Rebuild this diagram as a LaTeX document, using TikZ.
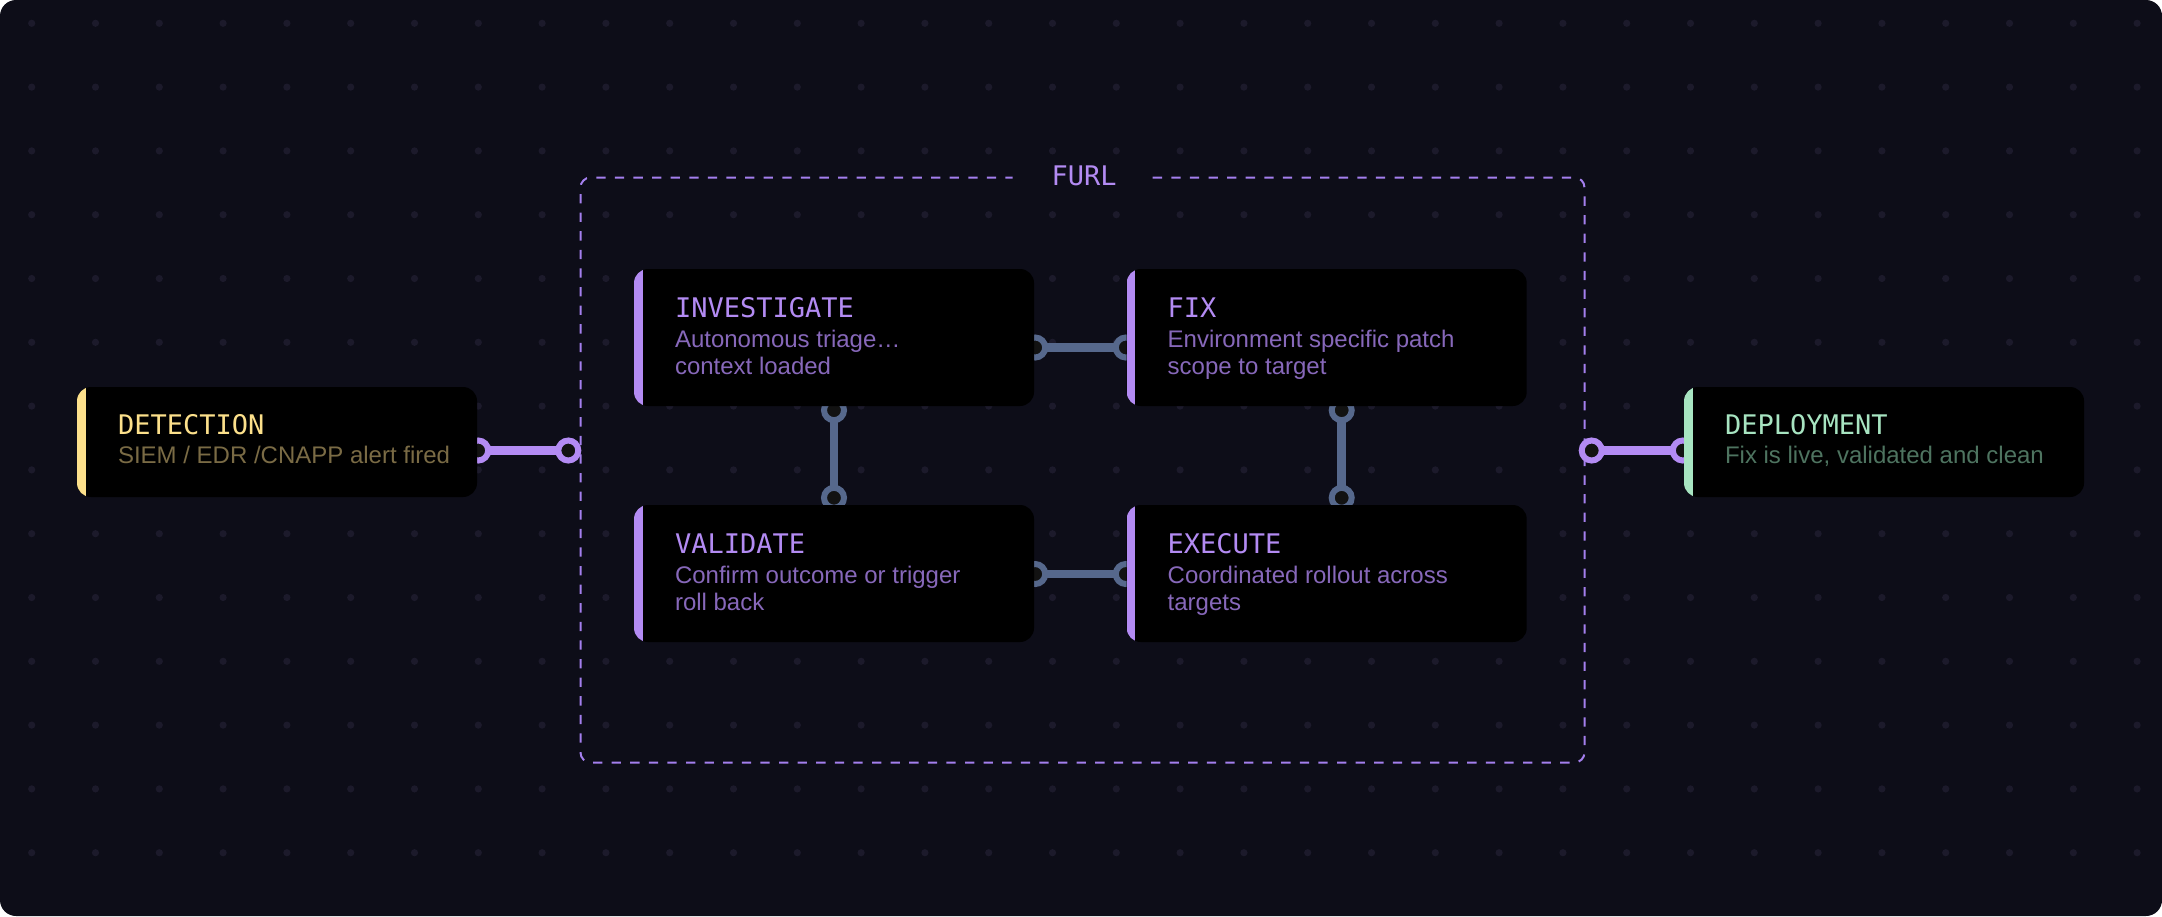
\documentclass[tikz,border=0pt]{standalone}
\usepackage{fontspec}
\usetikzlibrary{calc}
\newfontfamily\titlefont{DejaVu Sans Mono}
\newfontfamily\subfont{Liberation Sans}
\pgfdeclarelayer{backdrop}
\pgfdeclarelayer{links}
\pgfsetlayers{backdrop,links,main}
\definecolor{bgc}{HTML}{0D0D18}
\definecolor{dotc}{HTML}{1C1A2B}
\definecolor{boxc}{HTML}{000000}
\definecolor{holec}{HTML}{121212}
\definecolor{purp}{HTML}{B38BF3}
\definecolor{purpsub}{HTML}{8768BA}
\definecolor{yel}{HTML}{FCE08B}
\definecolor{yelsub}{HTML}{7A6B45}
\definecolor{grn}{HTML}{A7E4C1}
\definecolor{grnsub}{HTML}{4E7460}
\definecolor{slate}{HTML}{56688C}
\definecolor{dashc}{HTML}{A47FEE}
\tikzset{
  stepbox/.style={draw=none, fill=boxc, rounded corners=14pt, inner sep=0pt,
    minimum width=400pt,
    path picture={\fill[#1, sharp corners] (path picture bounding box.north west) rectangle ([xshift=8.5pt]path picture bounding box.south west);}},
  ttl/.style={anchor=base west, inner sep=0pt, font=\titlefont\fontsize{27}{32}\selectfont, text=#1},
  sub/.style={anchor=base west, inner sep=0pt, font=\subfont\fontsize{24}{27}\selectfont, text=#1},
  pline/.style={draw=purp, line width=8.5pt},
  pring/.style={draw=purp, fill=holec, line width=6pt},
  sline/.style={draw=slate, line width=8.5pt},
  sring/.style={draw=slate, fill=holec, line width=6pt},
  furlframe/.style={draw=dashc, line width=2pt, dash pattern=on 9.3pt off 9.3pt, rounded corners=10pt},
}
\begin{document}
\begin{tikzpicture}[x=1pt,y=-1pt]
\useasboundingbox (0,0) rectangle (2162,916);
% boxes
\node[stepbox=yel, minimum height=110pt] (det) at (277,442) {};
\node[stepbox=grn, minimum height=110pt] (dep) at (1884,442) {};
\node[stepbox=purp, minimum height=137pt] (inv) at (834,337.5) {};
\node[stepbox=purp, minimum height=137pt] (fix) at (1326.7,337.5) {};
\node[stepbox=purp, minimum height=137pt] (val) at (834,573.5) {};
\node[stepbox=purp, minimum height=137pt] (exe) at (1326.7,573.5) {};
% texts
\node[ttl=yel] (detT) at ($(det.north west)+(41,48)$) {DETECTION};
\node[sub=yelsub] (detS) at ($(det.north west)+(41,77)$) {SIEM / EDR /CNAPP alert fired};
\node[ttl=grn] (depT) at ($(dep.north west)+(41,48)$) {DEPLOYMENT};
\node[sub=grnsub] (depS) at ($(dep.north west)+(41,77)$) {Fix is live, validated and clean};
\node[ttl=purp] (invT) at ($(inv.north west)+(41,49)$) {INVESTIGATE};
\node[sub=purpsub] (invS1) at ($(inv.north west)+(41,79)$) {Autonomous triage…};
\node[sub=purpsub] (invS2) at ($(inv.north west)+(41,106)$) {context loaded};
\node[ttl=purp] (fixT) at ($(fix.north west)+(41,49)$) {FIX};
\node[sub=purpsub] (fixS1) at ($(fix.north west)+(41,79)$) {Environment specific patch};
\node[sub=purpsub] (fixS2) at ($(fix.north west)+(41,106)$) {scope to target};
\node[ttl=purp] (valT) at ($(val.north west)+(41,49)$) {VALIDATE};
\node[sub=purpsub] (valS1) at ($(val.north west)+(41,79)$) {Confirm outcome or trigger};
\node[sub=purpsub] (valS2) at ($(val.north west)+(41,106)$) {roll back};
\node[ttl=purp] (exeT) at ($(exe.north west)+(41,49)$) {EXECUTE};
\node[sub=purpsub] (exeS1) at ($(exe.north west)+(41,79)$) {Coordinated rollout across};
\node[sub=purpsub] (exeS2) at ($(exe.north west)+(41,106)$) {targets};
% FURL label
\node[anchor=base, inner sep=0pt, font=\titlefont\fontsize{27}{32}\selectfont, text=purp] (furl) at (1084,185.7) {FURL};
% frame ports
\coordinate (furlL) at (568.3,450.5);
\coordinate (furlR) at (1591.7,450.5);
\begin{pgfonlayer}{backdrop}
  \fill[white] (0,0) rectangle (2162,916);
  \fill[bgc, rounded corners=16pt] (0,0) rectangle (2162,916);
  \foreach \i in {0,...,33} {
    \foreach \j in {0,...,13} {
      \fill[dotc] (31.7+63.8*\i, 23.3+63.8*\j) circle (3.6pt);
    }
  }
  \draw[furlframe] (1152.7,177.5) -- (1584.5,177.5) -- (1584.5,762.5) -- (580.5,762.5) -- (580.5,177.5) -- (1012.7,177.5);
\end{pgfonlayer}
\begin{pgfonlayer}{links}
  % detection -> furl
  \coordinate (a1) at ($(det.east)+(1,8.5)$);
  \draw[pline] (a1) -- (furlL);
  \draw[pring] (a1) circle (10pt);
  \draw[pring] (furlL) circle (10pt);
  % furl -> deployment
  \coordinate (a2) at ($(dep.west)+(-1,8.5)$);
  \draw[pline] (furlR) -- (a2);
  \draw[pring] (furlR) circle (10pt);
  \draw[pring] (a2) circle (10pt);
  % investigate -> fix
  \coordinate (b1) at ($(inv.east)+(1,10)$);
  \coordinate (b2) at ($(fix.west)+(-0.7,10)$);
  \draw[sline] (b1) -- (b2);
  \draw[sring] (b1) circle (10pt);
  \draw[sring] (b2) circle (10pt);
  % validate -> execute
  \coordinate (c1) at ($(val.east)+(1,0.5)$);
  \coordinate (c2) at ($(exe.west)+(-0.7,0.5)$);
  \draw[sline] (c1) -- (c2);
  \draw[sring] (c1) circle (10pt);
  \draw[sring] (c2) circle (10pt);
  % investigate -> validate
  \coordinate (d1) at ($(inv.south)+(0,4)$);
  \coordinate (d2) at ($(val.north)+(0,-7)$);
  \draw[sline] (d1) -- (d2);
  \draw[sring] (d1) circle (10pt);
  \draw[sring] (d2) circle (10pt);
  % fix -> execute
  \coordinate (e1) at ($(fix.south)+(15,4)$);
  \coordinate (e2) at ($(exe.north)+(15,-7)$);
  \draw[sline] (e1) -- (e2);
  \draw[sring] (e1) circle (10pt);
  \draw[sring] (e2) circle (10pt);
\end{pgfonlayer}
\end{tikzpicture}
\end{document}
